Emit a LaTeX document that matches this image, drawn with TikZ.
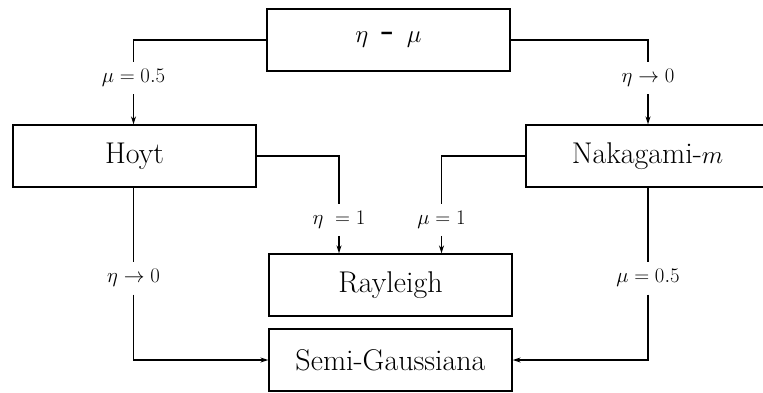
\documentclass[tikz,border=0pt]{standalone}
\usetikzlibrary{arrows.meta}
\begin{document}
\begin{tikzpicture}[x=1pt,y=-1pt,
  box/.style={draw, line width=1.3pt, minimum width=243pt, minimum height=62pt,
    inner sep=0pt, font=\fontsize{30}{34}\selectfont},
  lbl/.style={inner sep=0pt, minimum height=32pt, font=\fontsize{20}{24}\selectfont},
  conn/.style={line width=1.3pt},
  arr/.style={conn, -{Stealth[length=8pt,width=5pt]}}]
\useasboundingbox (0,0) rectangle (763,392);
\clip (0,0) rectangle (763,392);

% distributions
\node[box, font=\fontsize{42}{46}\selectfont] (etamu) at (388.5,40) {$\eta$ \textsf{-} $\mu$};
\node[box] (hoyt) at (134.5,156) {Hoyt};
\node[box] (naka) at (647.5,156) {Nakagami-$m$};
\node[box] (ray)  at (390.5,285) {Rayleigh};
\node[box] (semi) at (390.5,360) {Semi-Gaussiana};

% parameter labels
\node[lbl] (l1) at (133.5,78) {$\mu=0.5$};
\node[lbl] (l2) at (648,78) {$\eta\rightarrow 0$};
\node[lbl] (l3) at (339,219.7) {$\eta\ = 1$};
\node[lbl] (l4) at (441.5,219.7) {$\mu=1$};
\node[lbl] (l5) at (133.5,278.3) {$\eta\rightarrow 0$};
\node[lbl] (l6) at (648,278.3) {$\mu=0.5$};

% eta-mu to Hoyt and Nakagami
\draw[conn] (etamu.west) -| (l1.north);
\draw[arr] (l1.south) -- (l1.south |- hoyt.north);
\draw[conn] (etamu.east) -| (l2.north);
\draw[arr] (l2.south) -- (l2.south |- naka.north);

% Hoyt and Nakagami to Rayleigh
\draw[conn] (hoyt.east) -| (l3.north);
\draw[arr] (l3.south) -- (l3.south |- ray.north);
\draw[conn] (naka.west) -| (l4.north);
\draw[arr] (l4.south) -- (l4.south |- ray.north);

% Hoyt and Nakagami to Semi-Gaussiana
\draw[conn] (l5.north |- hoyt.south) -- (l5.north);
\draw[arr] (l5.south) |- (semi.west);
\draw[conn] (l6.north |- naka.south) -- (l6.north);
\draw[arr] (l6.south) |- (semi.east);
\end{tikzpicture}
\end{document}
